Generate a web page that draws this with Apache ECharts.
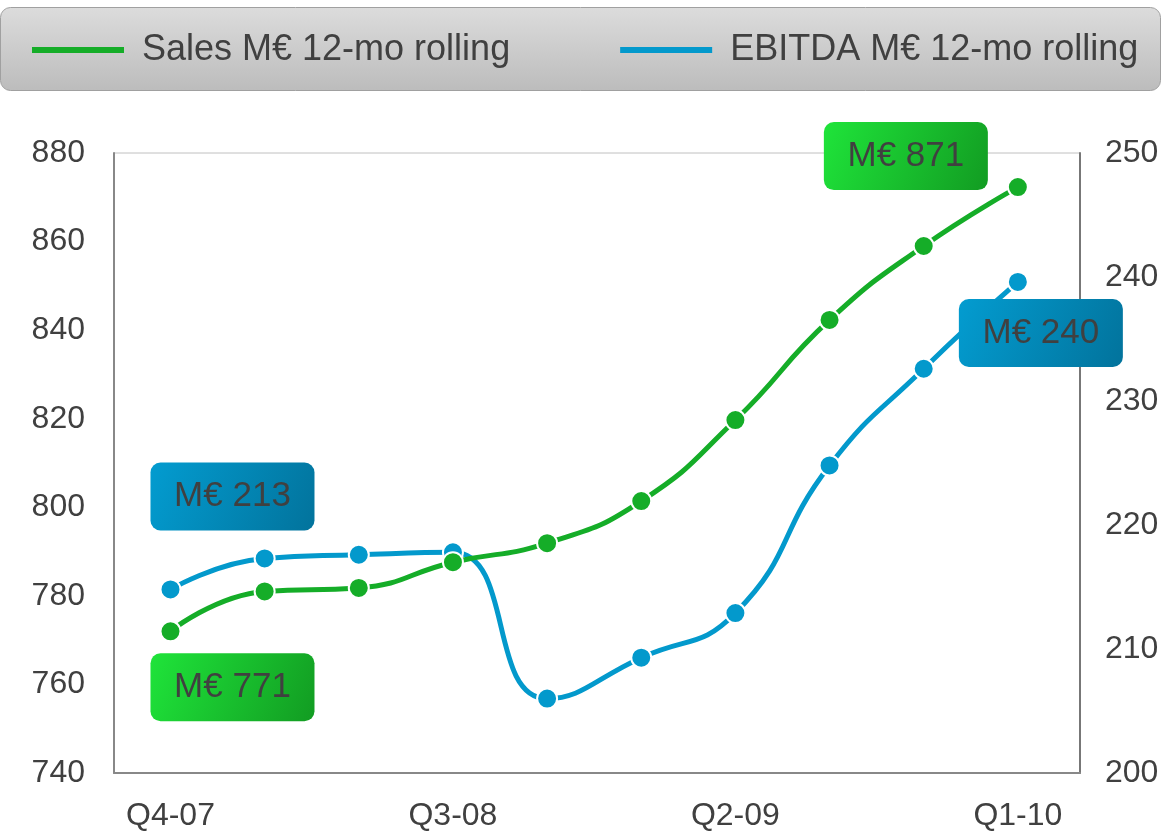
<!DOCTYPE html>
<html>
<head>
<meta charset="utf-8">
<script src="https://cdn.jsdelivr.net/npm/echarts@6/dist/echarts.min.js"></script>
<style>
  html, body { margin: 0; padding: 0; background: #fff; }
  #chart { width: 1168px; height: 831px; }
</style>
</head>
<body>
<div id="chart"></div>
<script>
// 季度
const quarters = ['Q4-07', 'Q1-08', 'Q2-08', 'Q3-08', 'Q4-08', 'Q1-09', 'Q2-09', 'Q3-09', 'Q4-09', 'Q1-10'];
// 销售额 (左轴)
const salesValues = [772, 781, 781.8, 787.6, 791.9, 801.4, 819.7, 842.3, 859, 872.3];
// EBITDA (右轴)
const ebitdaValues = [214.8, 217.3, 217.6, 217.8, 206.0, 209.3, 212.9, 224.8, 232.6, 239.6];
// 显示的横轴标签位置
const shownQuarters = [0, 3, 6, 9];
// 标注框文字
const salesNotes = { 0: 'M€ 771', 9: 'M€ 871' };
const ebitdaNotes = { 0: 'M€ 213', 9: 'M€ 240' };

const FONT = '"Liberation Sans", Arial, sans-serif';
const GREEN = '#15ad28';
const BLUE = '#0399cc';
const TEXT = '#404040';

const greenBox = {
    type: 'linear', x: 0, y: 0, x2: 1, y2: 1,
    colorStops: [{ offset: 0, color: '#1fe43a' }, { offset: 1, color: '#129c22' }]
};
const blueBox = {
    type: 'linear', x: 0, y: 0, x2: 1, y2: 1,
    colorStops: [{ offset: 0, color: '#039cd0' }, { offset: 1, color: '#02739c' }]
};

function noteLabel(text, bg, offset) {
    return {
        show: true,
        position: 'inside',
        offset: offset,
        formatter: text,
        width: 164,
        height: 68,
        lineHeight: 68,
        align: 'center',
        verticalAlign: 'middle',
        backgroundColor: bg,
        borderRadius: 10,
        color: TEXT,
        fontSize: 35,
        fontFamily: FONT
    };
}

const salesOffsets = { 0: [62, 56], 9: [-112, -31] };
const ebitdaOffsets = { 0: [62, -93], 9: [23, 51] };

const salesData = salesValues.map((v, i) => {
    const item = { value: [i, v] };
    if (salesNotes[i]) item.label = noteLabel(salesNotes[i], greenBox, salesOffsets[i]);
    return item;
});
const ebitdaData = ebitdaValues.map((v, i) => {
    const item = { value: [i, v] };
    if (ebitdaNotes[i]) item.label = noteLabel(ebitdaNotes[i], blueBox, ebitdaOffsets[i]);
    return item;
});

const chart = echarts.init(document.getElementById('chart'));

const option = {
    animation: false,
    textStyle: { fontFamily: FONT },
    graphic: [{
        type: 'rect',
        z: -10,
        shape: { x: 0.5, y: 7.5, width: 1160, height: 83, r: 10 },
        style: {
            fill: {
                type: 'linear', x: 0, y: 0, x2: 0, y2: 1,
                colorStops: [{ offset: 0, color: '#dcdcdc' }, { offset: 1, color: '#bcbcbc' }]
            },
            stroke: '#a0a0a0',
            lineWidth: 1
        }
    }],
    legend: {
        data: ['Sales M€ 12-mo rolling', 'EBITDA M€ 12-mo rolling'],
        left: 27,
        top: 27,
        icon: 'rect',
        itemWidth: 92,
        itemHeight: 6,
        itemGap: 110,
        itemStyle: { borderWidth: 0 },
        textStyle: { fontSize: 36, color: TEXT, fontFamily: FONT, padding: [2, 0, 0, 13] }
    },
    grid: {
        left: 114, right: 88, top: 153, bottom: 58,
        outerBoundsMode: 'none',
        show: true, borderColor: '#c0c0c0', borderWidth: 1
    },
    xAxis: {
        type: 'value',
        min: -0.6,
        max: 9.66,
        splitLine: { show: false },
        axisTick: { show: false },
        axisLine: { onZero: false, lineStyle: { color: '#888', width: 2 } },
        axisLabel: {
            customValues: shownQuarters,
            formatter: v => quarters[Math.round(v)],
            fontSize: 32,
            color: TEXT,
            margin: 27
        }
    },
    yAxis: [{
        type: 'value',
        min: 740,
        max: 880,
        interval: 20,
        splitLine: { show: false },
        axisTick: { show: false },
        axisLine: { show: true, onZero: false, lineStyle: { color: '#888', width: 2 } },
        axisLabel: { fontSize: 32, color: TEXT, margin: 29 }
    }, {
        type: 'value',
        min: 200,
        max: 250,
        interval: 10,
        position: 'right',
        splitLine: { show: false },
        axisTick: { show: false },
        axisLine: { show: true, onZero: false, lineStyle: { color: '#777', width: 2 } },
        axisLabel: { fontSize: 32, color: TEXT, margin: 25 }
    }],
    series: [{
        name: 'EBITDA M€ 12-mo rolling',
        type: 'line',
        yAxisIndex: 1,
        smooth: 0.5,
        data: ebitdaData,
        symbol: 'circle',
        symbolSize: 20,
        color: BLUE,
        lineStyle: { width: 5, color: BLUE },
        itemStyle: { color: BLUE, borderColor: '#fff', borderWidth: 2 },
        z: 2
    }, {
        name: 'Sales M€ 12-mo rolling',
        type: 'line',
        yAxisIndex: 0,
        smooth: 0.5,
        data: salesData,
        symbol: 'circle',
        symbolSize: 20,
        color: GREEN,
        lineStyle: { width: 5, color: GREEN },
        itemStyle: { color: GREEN, borderColor: '#fff', borderWidth: 2 },
        z: 3
    }]
};

chart.setOption(option);
</script>
</body>
</html>
